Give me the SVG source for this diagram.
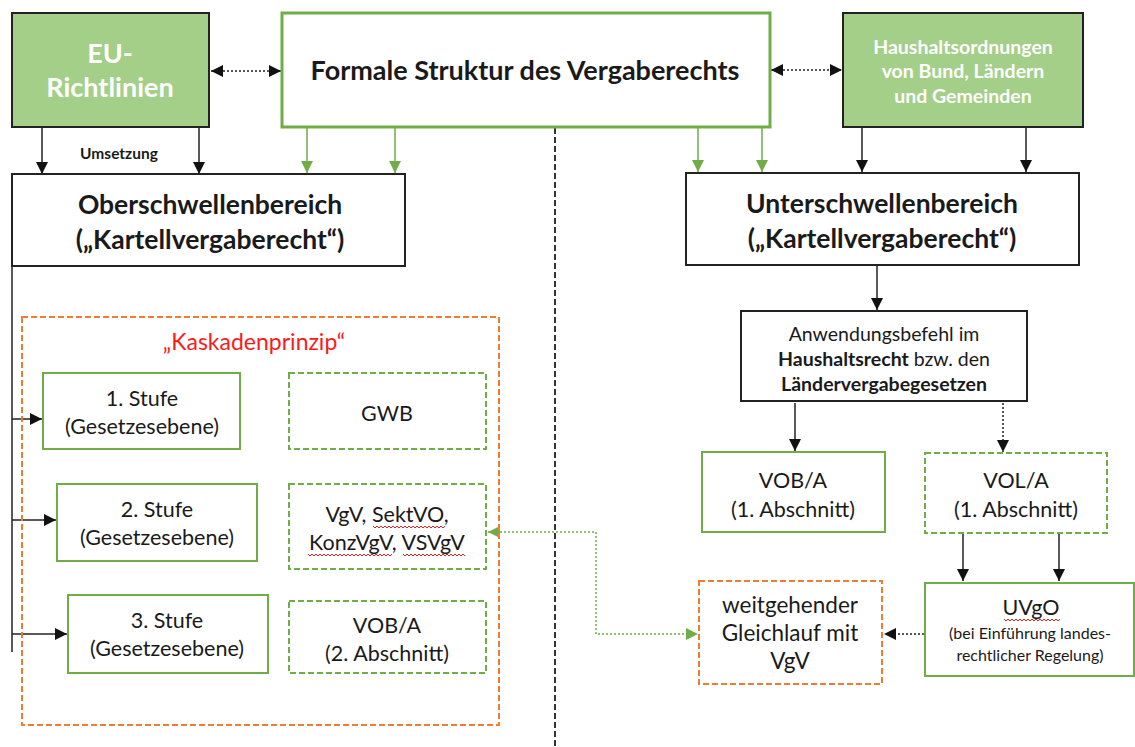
<svg xmlns="http://www.w3.org/2000/svg" width="1135" height="747" viewBox="0 0 1135 747">
<style>
text{font-family:Lato,"Open Sans","Liberation Sans",sans-serif;fill:#1a1a1a;text-anchor:middle}
.b{font-weight:bold}
.w{fill:#ffffff;font-weight:bold}
.r{font-size:21.5px}
.dark{fill:#ffffff;stroke:#222;stroke-width:2}
.gfill{fill:#a3cf88;stroke:#222;stroke-width:2}
.gsolid{fill:#ffffff;stroke:#70ad47;stroke-width:2}
.gbold{fill:#ffffff;stroke:#70ad47;stroke-width:3}
.gdash{fill:#ffffff;stroke:#70ad47;stroke-width:2;stroke-dasharray:6,3}
.odash{fill:none;stroke:#ed7d31;stroke-width:2;stroke-dasharray:6,3}
.ln{stroke:#222;stroke-width:1.5;fill:none}
.gln{stroke:#70ad47;stroke-width:1.5;fill:none}
.dot{stroke:#222;stroke-width:1.5;fill:none;stroke-dasharray:2,2}
.gdot{stroke:#70ad47;stroke-width:1.5;fill:none;stroke-dasharray:2,2}
.wavy{stroke:#e02020;stroke-width:1;fill:none}
</style>
<defs>
<marker id="ab" markerUnits="userSpaceOnUse" markerWidth="12" markerHeight="12" refX="12" refY="6" orient="auto-start-reverse"><path d="M0,0 L12,6 L0,12 z" fill="#111"/></marker>
<marker id="ag" markerUnits="userSpaceOnUse" markerWidth="12" markerHeight="12" refX="12" refY="6" orient="auto-start-reverse"><path d="M0,0 L12,6 L0,12 z" fill="#70ad47"/></marker>
</defs>

<g id="connectors">
<line class="dot" x1="211" y1="71" x2="281" y2="71" marker-start="url(#ab)" marker-end="url(#ab)"/>
<line class="dot" x1="771" y1="70" x2="842" y2="70" marker-start="url(#ab)" marker-end="url(#ab)"/>
<line class="ln" x1="42" y1="128" x2="42" y2="174" marker-end="url(#ab)"/>
<line class="ln" x1="199" y1="128" x2="199" y2="174" marker-end="url(#ab)"/>
<line class="gln" x1="307" y1="128" x2="307" y2="173" marker-end="url(#ag)"/>
<line class="gln" x1="395" y1="128" x2="395" y2="173" marker-end="url(#ag)"/>
<line class="gln" x1="698" y1="128" x2="698" y2="172" marker-end="url(#ag)"/>
<line class="gln" x1="762" y1="128" x2="762" y2="172" marker-end="url(#ag)"/>
<line class="ln" x1="862" y1="128" x2="862" y2="172" marker-end="url(#ab)"/>
<line class="ln" x1="1026" y1="128" x2="1026" y2="172" marker-end="url(#ab)"/>
<line x1="555" y1="128" x2="555" y2="747" stroke="#333" stroke-width="2" stroke-dasharray="6,3"/>
<line class="ln" x1="12" y1="266" x2="12" y2="652"/>
<line class="ln" x1="12" y1="419" x2="42" y2="419" marker-end="url(#ab)"/>
<line class="ln" x1="12" y1="520" x2="56" y2="520" marker-end="url(#ab)"/>
<line class="ln" x1="12" y1="634" x2="67" y2="634" marker-end="url(#ab)"/>
<line class="ln" x1="877" y1="266" x2="877" y2="310" marker-end="url(#ab)"/>
<line class="ln" x1="795" y1="403" x2="795" y2="451" marker-end="url(#ab)"/>
<line class="dot" x1="1003" y1="403" x2="1003" y2="452" marker-end="url(#ab)"/>
<line class="ln" x1="963" y1="534" x2="963" y2="581" marker-end="url(#ab)"/>
<line class="ln" x1="1059" y1="534" x2="1059" y2="581" marker-end="url(#ab)"/>
<line class="dot" x1="924" y1="634" x2="884" y2="634" marker-end="url(#ab)"/>
<polyline class="gdot" points="488,532 596,532 596,634 698,634" marker-start="url(#ag)" marker-end="url(#ag)"/>
</g>

<g id="eu">
<rect class="gfill" x="12" y="13" width="197" height="114"/>
<text class="w" x="110" y="63" font-size="27">EU-</text>
<text class="w" x="110" y="97" font-size="27">Richtlinien</text>
</g>
<text class="b" x="119" y="159" font-size="15.5">Umsetzung</text>

<g id="formale">
<rect class="gbold" x="282" y="13" width="488" height="114"/>
<text class="b" x="525" y="80" font-size="27">Formale Struktur des Vergaberechts</text>
</g>

<g id="haushalt">
<rect class="gfill" x="843" y="13" width="240" height="114"/>
<text class="w" x="963" y="54" font-size="19.5">Haushaltsordnungen</text>
<text class="w" x="963" y="78" font-size="19.5">von Bund, Ländern</text>
<text class="w" x="963" y="103" font-size="19.5">und Gemeinden</text>
</g>

<g id="ober">
<rect class="dark" x="12" y="174" width="393" height="92"/>
<text class="b" x="210" y="214" font-size="26.5">Oberschwellenbereich</text>
<text class="b" x="210" y="249" font-size="26.5">(„Kartellvergaberecht“)</text>
</g>

<g id="unter">
<rect class="dark" x="686" y="173" width="393" height="92"/>
<text class="b" x="882" y="213" font-size="26.5">Unterschwellenbereich</text>
<text class="b" x="882" y="248" font-size="26.5">(„Kartellvergaberecht“)</text>
</g>

<g id="kaskade">
<rect class="odash" x="22" y="317" width="477" height="408"/>
<text x="254" y="350" font-size="23" style="fill:#ff1a1a">„Kaskadenprinzip“</text>
</g>

<g id="stufe1">
<rect class="gsolid" x="43" y="373" width="197" height="76"/>
<text class="r" x="142" y="406">1. Stufe</text>
<text class="r" x="142" y="434">(Gesetzesebene)</text>
</g>
<g id="stufe2">
<rect class="gsolid" x="57" y="484" width="200" height="77"/>
<text class="r" x="157" y="517">2. Stufe</text>
<text class="r" x="157" y="545">(Gesetzesebene)</text>
</g>
<g id="stufe3">
<rect class="gsolid" x="68" y="595" width="200" height="78"/>
<text class="r" x="167" y="628">3. Stufe</text>
<text class="r" x="167" y="656">(Gesetzesebene)</text>
</g>

<g id="gwb">
<rect class="gdash" x="289" y="373" width="197" height="76"/>
<text class="r" x="387" y="421">GWB</text>
</g>
<g id="vgv">
<rect class="gdash" x="289" y="484" width="197" height="85"/>
<text class="r" x="387" y="522">VgV, SektVO,</text>
<text class="r" x="387" y="550">KonzVgV, VSVgV</text>
<path class="wavy" d="M373,526 l2,2 2,-2 2,2 2,-2 2,2 2,-2 2,2 2,-2 2,2 2,-2 2,2 2,-2 2,2 2,-2 2,2 2,-2 2,2 2,-2 2,2 2,-2 2,2 2,-2 2,2 2,-2 2,2 2,-2 2,2 2,-2 2,2 2,-2 2,2 2,-2 2,2 2,-2 2,2 2,-2"/>
<path class="wavy" d="M308,554 l2,2 2,-2 2,2 2,-2 2,2 2,-2 2,2 2,-2 2,2 2,-2 2,2 2,-2 2,2 2,-2 2,2 2,-2 2,2 2,-2 2,2 2,-2 2,2 2,-2 2,2 2,-2 2,2 2,-2 2,2 2,-2 2,2 2,-2 2,2 2,-2 2,2 2,-2 2,2 2,-2 2,2 2,-2 2,2 2,-2 2,2 2,-2"/>
<path class="wavy" d="M403,554 l2,2 2,-2 2,2 2,-2 2,2 2,-2 2,2 2,-2 2,2 2,-2 2,2 2,-2 2,2 2,-2 2,2 2,-2 2,2 2,-2 2,2 2,-2 2,2 2,-2 2,2 2,-2 2,2 2,-2 2,2 2,-2 2,2 2,-2 2,2"/>
</g>
<g id="vob2">
<rect class="gdash" x="289" y="601" width="197" height="72"/>
<text class="r" x="387" y="633">VOB/A</text>
<text class="r" x="387" y="661">(2. Abschnitt)</text>
</g>

<g id="anwendung">
<rect class="dark" x="741" y="311" width="286" height="90"/>
<text x="884" y="341" font-size="19.5">Anwendungsbefehl im</text>
<text x="884" y="366" font-size="19.5"><tspan class="b">Haushaltsrecht</tspan> bzw. den</text>
<text class="b" x="884" y="391" font-size="19.5">Ländervergabegesetzen</text>
</g>

<g id="vob1">
<rect class="gsolid" x="702" y="452" width="183" height="80"/>
<text class="r" x="793" y="488">VOB/A</text>
<text class="r" x="793" y="517">(1. Abschnitt)</text>
</g>
<g id="vol1">
<rect class="gdash" x="925" y="453" width="182" height="80"/>
<text class="r" x="1016" y="488">VOL/A</text>
<text class="r" x="1016" y="517">(1. Abschnitt)</text>
</g>

<g id="uvgo">
<rect class="gsolid" x="925" y="583" width="209" height="93"/>
<text class="r" x="1031" y="615">UVgO</text>
<path class="wavy" d="M1004,619 l2,2 2,-2 2,2 2,-2 2,2 2,-2 2,2 2,-2 2,2 2,-2 2,2 2,-2 2,2 2,-2 2,2 2,-2 2,2 2,-2 2,2 2,-2 2,2 2,-2 2,2 2,-2 2,2 2,-2 2,2 2,-2"/>
<text x="1030" y="639" font-size="16">(bei Einführung landes-</text>
<text x="1030" y="661" font-size="16">rechtlicher Regelung)</text>
</g>

<g id="gleichlauf">
<rect class="odash" x="699" y="581" width="183" height="103"/>
<text x="790" y="613" font-size="22.5">weitgehender</text>
<text x="790" y="641" font-size="22.5">Gleichlauf mit</text>
<text x="790" y="669" font-size="22.5">VgV</text>
</g>
</svg>
